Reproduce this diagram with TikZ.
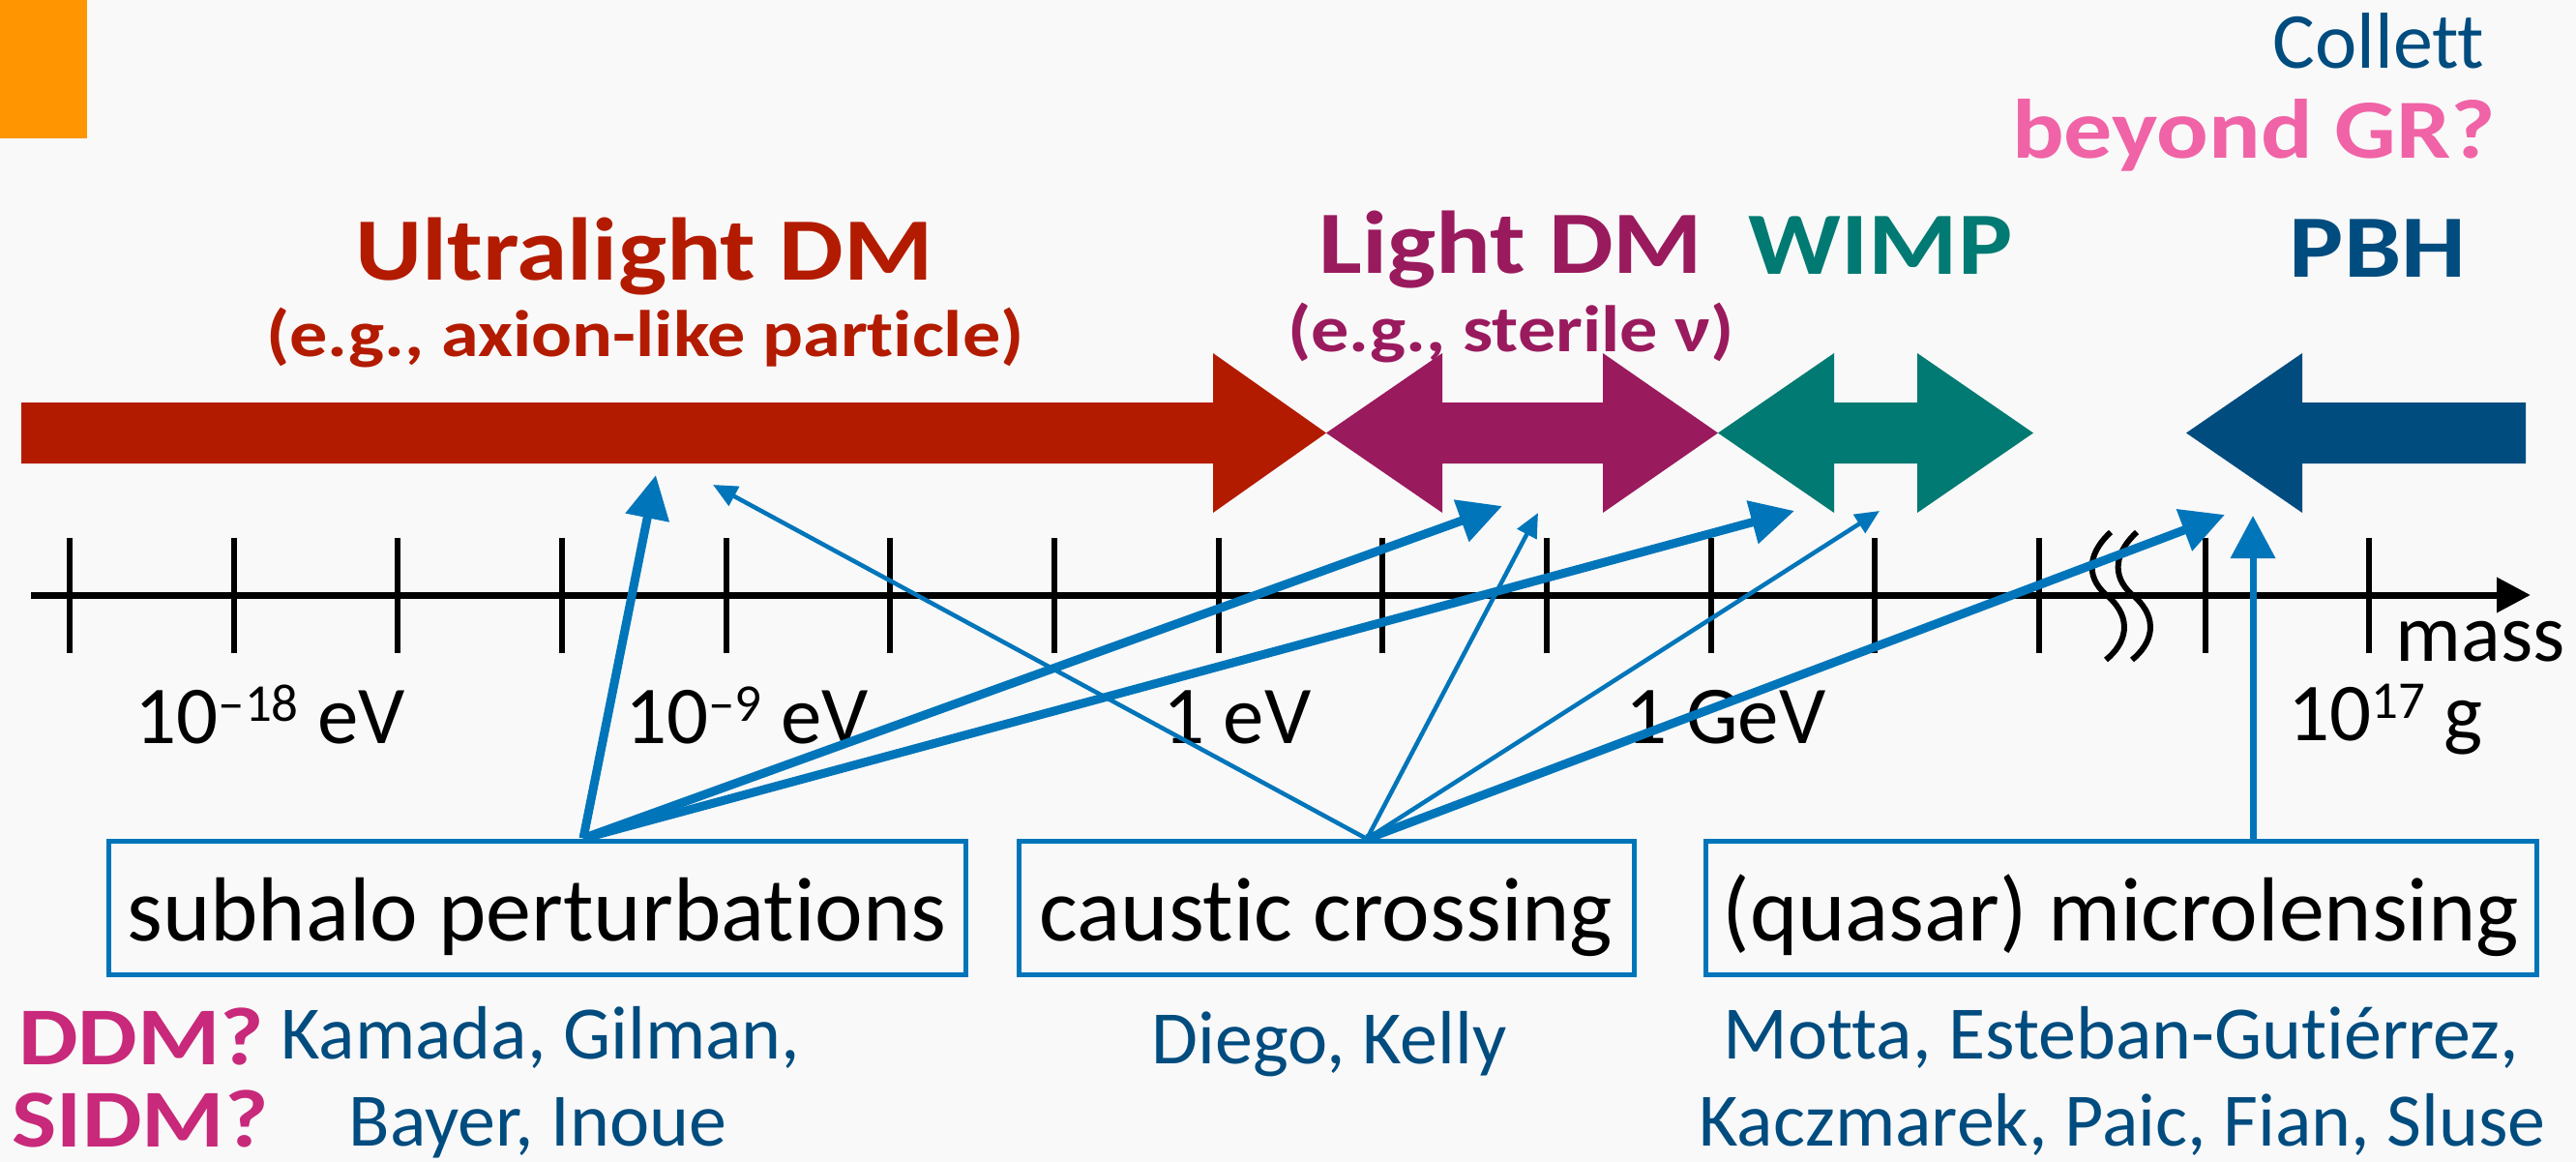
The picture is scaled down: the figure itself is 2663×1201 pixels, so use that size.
\documentclass[tikz,border=0pt]{standalone}
\usepackage{fontspec}
\setmainfont[Ligatures=NoCommon]{Carlito}
\newfontfamily\bt[FakeStretch=1.15,Ligatures=NoCommon]{Carlito}
\usetikzlibrary{arrows.meta}
\definecolor{bgc}{HTML}{F9F9F9}
\definecolor{dmred}{HTML}{B31B00}
\definecolor{dmpurple}{HTML}{9A1A5E}
\definecolor{dmteal}{HTML}{007A72}
\definecolor{dmnavy}{HTML}{004C7F}
\definecolor{lblue}{HTML}{0075BA}
\definecolor{gpink}{HTML}{F063A6}
\definecolor{dmag}{HTML}{C8297A}
\definecolor{orng}{HTML}{FF9500}
\newcommand\mysup[1]{\raisebox{23pt}{\fontsize{55}{55}\selectfont #1}}
\begin{document}
\begin{tikzpicture}[x=1pt,y=-1pt,
  lbl/.style={inner sep=0pt, anchor=base, font=\fontsize{85}{90}\selectfont},
  ttl/.style={inner sep=0pt, anchor=base, font=\bt\bfseries\fontsize{92}{96}\selectfont},
  subttl/.style={inner sep=0pt, anchor=base, font=\bt\bfseries\fontsize{68}{72}\selectfont},
  auth/.style={inner sep=0pt, anchor=base, text=dmnavy, font=\fontsize{78}{82}\selectfont},
  probe/.style={draw=lblue, line width=5pt, inner sep=0pt, text height=90pt, text depth=22pt,
    minimum height=138pt, font=\fontsize{94}{100}\selectfont},
  thickarr/.style={draw=lblue, line width=9pt, -{Triangle[length=45pt,width=44pt]}},
  thinarr/.style={draw=lblue, line width=4.5pt, -{Triangle[length=25pt,width=22pt]}},
  vertarr/.style={draw=lblue, line width=7pt, -{Triangle[length=44pt,width=45pt]}},
  axtick/.style={line width=6pt},
  wavy/.style={line width=6pt}
]
\useasboundingbox (0,0) rectangle (2663,1201);
\fill[bgc] (0,0) rectangle (2663,1201);
\fill[orng] (0,0) rectangle (90,143);

% mass-range arrows
\fill[dmred] (22,416) -- (1254,416) -- (1254,365) -- (1371,447.5) -- (1254,530) -- (1254,479) -- (22,479) -- cycle;
\fill[dmpurple] (1371,447.5) -- (1491,365) -- (1491,416) -- (1657,416) -- (1657,365) -- (1776,447.5)
  -- (1657,530) -- (1657,479) -- (1491,479) -- (1491,530) -- cycle;
\fill[dmteal] (1776,447.5) -- (1896,365) -- (1896,416) -- (1982,416) -- (1982,365) -- (2102,447.5)
  -- (1982,530) -- (1982,479) -- (1896,479) -- (1896,530) -- cycle;
\fill[dmnavy] (2260,447.5) -- (2380,365) -- (2380,416) -- (2611,416) -- (2611,479) -- (2380,479) -- (2380,530) -- cycle;

% axis
\coordinate (axs) at (32,615);
\coordinate (axe) at (2616,615);
\draw[line width=7pt, -{Triangle[length=35pt,width=35pt]}] (axs) -- (axe);
\foreach \x in {72,241.7,411.3,581,750.7,920.3,1090,1259.7,1429.3,1599,1768.7,1938.3,2108,2280,2449}
  \draw[axtick] (\x,556) -- (\x,675);
\foreach \d in {0,27}
  \draw[wavy, xshift=\d pt] (2182,550) .. controls (2155,575) and (2158,600) .. (2180,617)
    .. controls (2205,640) and (2198,665) .. (2177,682);

% axis labels
\node[lbl] (l18) at (279,768) {10\mysup{–18} eV};
\node[lbl] (l9) at (772,768) {10\mysup{–9} eV};
\node[lbl] (l0) at (1279,768) {1 eV};
\node[lbl] (lg) at (1784,768) {1 GeV};
\node[lbl] (l17) at (2466,765) {10\mysup{17} g};
\node[lbl] (mass) at (2564,683) {mass};

% titles
\node[ttl, text=dmred] (ul) at (666,289) {Ultralight DM};
\node[subttl, text=dmred] (ulsub) at (667,368) {(e.g., axion-like particle)};
\node[ttl, text=dmpurple] (ld) at (1562,282) {Light DM};
\node[subttl, text=dmpurple] (ldsub) at (1562,363) {(e.g., sterile ν)};
\node[ttl, text=dmteal] (wimp) at (1944,283) {WIMP};
\node[ttl, text=dmnavy] (pbh) at (2458,286) {PBH};
\node[ttl, text=gpink, font=\bt\bfseries\fontsize{87}{90}\selectfont] (bgr) at (2330,164) {beyond GR?};
\node[auth, font=\fontsize{82}{86}\selectfont] (col) at (2459,71) {Collett};

% probe boxes
\node[probe, minimum width=886pt] (subh) at (555,938) {subhalo perturbations};
\node[probe, minimum width=636pt] (caus) at (1371,938.5) {caustic crossing};
\node[probe, minimum width=859pt] (micro) at (2192.5,938.5) {(quasar) microlensing};

% authors
\node[ttl, text=dmag, font=\bt\bfseries\fontsize{85}{90}\selectfont] (ddm) at (146,1100) {DDM?};
\node[ttl, text=dmag, font=\bt\bfseries\fontsize{85}{90}\selectfont] (sidm) at (145,1185) {SIDM?};
\node[auth] (a1) at (559,1094) {Kamada, Gilman,};
\node[auth] (a2) at (556,1184) {Bayer, Inoue};
\node[auth] (a3) at (1374,1099) {Diego, Kelly};
\node[auth] (a4) at (2193,1094) {Motta, Esteban-Gutiérrez,};
\node[auth] (a5) at (2194,1184) {Kaczmarek, Paic, Fian, Sluse};

% connectors
\coordinate (s1) at ([xshift=48pt]subh.north);
\coordinate (s2) at ([xshift=42pt]caus.north);
\coordinate (s3) at ([xshift=136.5pt]micro.north);
\coordinate (tul1) at (678,491);
\coordinate (tld1) at (1553,523);
\coordinate (tw1) at (1855,528);
\coordinate (tul2) at (737,501);
\coordinate (tld2) at (1590,530);
\coordinate (tw2) at (1943,528);
\coordinate (tpbh1) at (2300,532);
\coordinate (tpbh2) at (2328,533);
\draw[thickarr] (s1) -- (tul1);
\draw[thickarr] (s1) -- (tld1);
\draw[thickarr] (s1) -- (tw1);
\draw[thinarr] (s2) -- (tul2);
\draw[thinarr] (s2) -- (tld2);
\draw[thinarr] (s2) -- (tw2);
\draw[thickarr] (s2) -- (tpbh1);
\draw[vertarr] (s3) -- (s3 |- tpbh2);
\end{tikzpicture}
\end{document}
